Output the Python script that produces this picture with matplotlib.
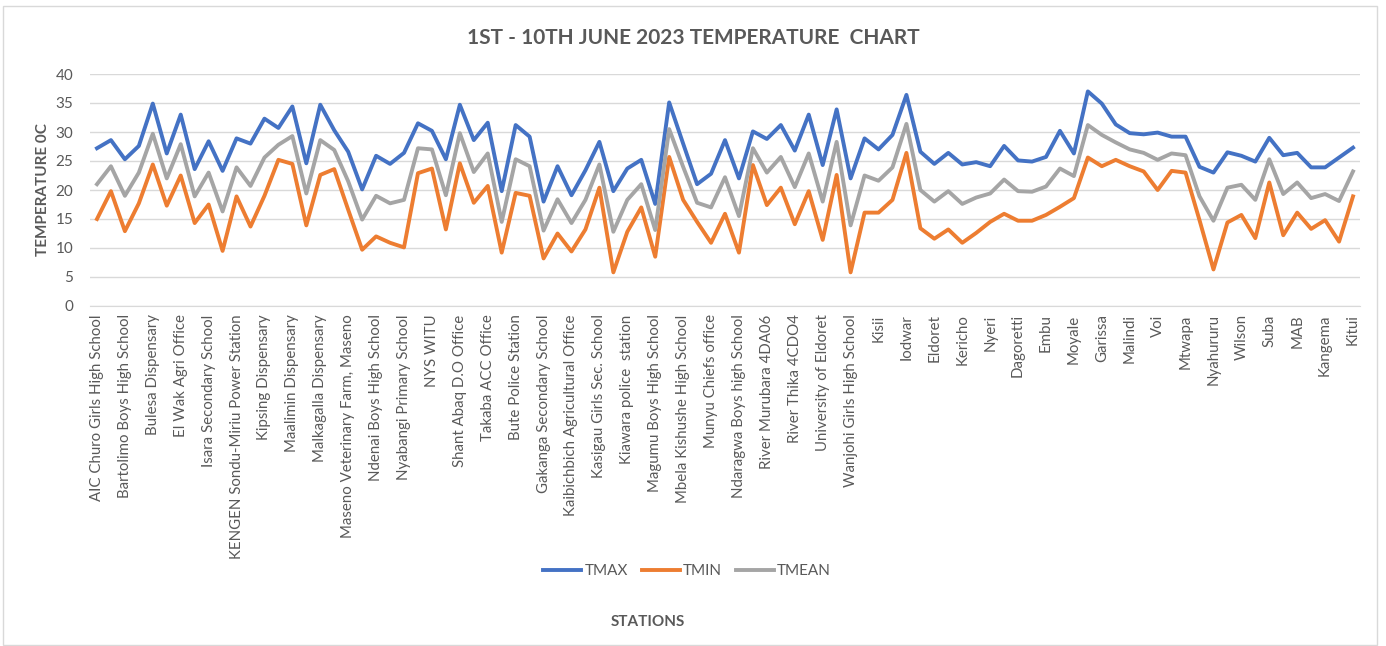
import matplotlib
matplotlib.use("Agg")
import matplotlib.pyplot as plt
from matplotlib.patches import Rectangle

plt.rcParams["font.family"] = ["Lato", "DejaVu Sans"]

# stations shown on the axis (every second station is labelled)
stations = [
    "AIC Churo Girls High School", "Bartolimo Boys High School", "Bulesa Dispensary",
    "El Wak Agri Office", "Isara Secondary School", "KENGEN Sondu-Miriu Power Station",
    "Kipsing Dispensary", "Maalimin Dispensary", "Malkagalla Dispensary",
    "Maseno Veterinary Farm, Maseno", "Ndenai Boys High School", "Nyabangi Primary School",
    "NYS WITU", "Shant Abaq D.O Office", "Takaba ACC Office", "Bute Police Station",
    "Gakanga Secondary School", "Kaibichbich Agricultural Office", "Kasigau Girls Sec. School",
    "Kiawara police  station", "Magumu Boys High School", "Mbela Kishushe High School",
    "Munyu Chiefs office", "Ndaragwa Boys high School", "River Murubara 4DA06",
    "River Thika 4CDO4", "University of Eldoret", "Wanjohi Girls High School", "Kisii",
    "Iodwar", "Eldoret", "Kericho", "Nyeri", "Dagoretti", "Embu", "Moyale", "Garissa",
    "Malindi", "Voi", "Mtwapa", "Nyahururu", "Wilson", "Suba", "MAB", "Kangema", "Kitui",
]

tmax = [27.2, 28.6, 25.3, 27.6, 34.9, 26.3, 33.0, 23.6, 28.4, 23.3,
        28.9, 28.0, 32.3, 30.7, 34.4, 24.6, 34.7, 30.3, 26.6, 20.1,
        25.9, 24.5, 26.4, 31.5, 30.2, 25.3, 34.7, 28.6, 31.6, 19.8,
        31.2, 29.2, 18.0, 24.1, 19.1, 23.4, 28.3, 19.8, 23.7, 25.2,
        17.6, 35.1, 28.0, 21.0, 22.8, 28.6, 22.0, 30.1, 28.8, 31.2,
        26.8, 33.0, 24.3, 33.9, 22.0, 28.9, 27.0, 29.5, 36.4, 26.6,
        24.5, 26.4, 24.4, 24.8, 24.1, 27.6, 25.1, 24.9, 25.7, 30.2,
        26.3, 37.0, 34.9, 31.3, 29.8, 29.6, 29.9, 29.2, 29.2, 24.0,
        23.0, 26.5, 25.9, 24.9, 29.0, 26.0, 26.4, 23.9, 23.9, 25.6,
        27.3]

tmin = [15.0, 19.8, 12.9, 17.7, 24.4, 17.3, 22.5, 14.3, 17.5, 9.5,
        18.9, 13.7, 19.0, 25.2, 24.5, 13.9, 22.6, 23.6, 16.6, 9.7,
        12.0, 10.9, 10.1, 22.9, 23.7, 13.2, 24.6, 17.8, 20.7, 9.2,
        19.5, 19.0, 8.2, 12.5, 9.4, 13.2, 20.4, 5.8, 12.8, 17.0,
        8.5, 25.7, 18.3, 14.5, 10.9, 15.9, 9.2, 24.3, 17.4, 20.4,
        14.1, 19.8, 11.4, 22.6, 5.8, 16.1, 16.1, 18.3, 26.4, 13.4,
        11.6, 13.2, 10.9, 12.6, 14.5, 15.9, 14.7, 14.7, 15.7, 17.1,
        18.6, 25.6, 24.1, 25.2, 24.1, 23.2, 20.0, 23.3, 23.0, 14.8,
        6.3, 14.4, 15.7, 11.7, 21.3, 12.2, 16.1, 13.3, 14.8, 11.1,
        18.9]

tmean = [21.0, 24.1, 19.0, 23.0, 29.7, 22.0, 27.9, 18.9, 23.0, 16.3,
         23.9, 20.7, 25.6, 27.8, 29.3, 19.4, 28.6, 26.9, 21.5, 14.9,
         19.0, 17.7, 18.3, 27.2, 27.0, 19.1, 29.8, 23.1, 26.3, 14.5,
         25.3, 24.1, 13.0, 18.4, 14.3, 18.3, 24.4, 12.8, 18.3, 21.0,
         13.1, 30.5, 24.0, 17.8, 17.0, 22.2, 15.5, 27.2, 23.0, 25.7,
         20.5, 26.3, 18.0, 28.3, 13.9, 22.5, 21.6, 23.9, 31.4, 20.0,
         18.0, 19.8, 17.6, 18.7, 19.4, 21.8, 19.8, 19.7, 20.6, 23.7,
         22.4, 31.2, 29.5, 28.2, 27.0, 26.4, 25.2, 26.3, 26.0, 18.9,
         14.7, 20.4, 20.9, 18.3, 25.3, 19.3, 21.3, 18.6, 19.3, 18.1,
         23.2]

text_col = "#595959"
x = list(range(len(tmax)))

fig = plt.figure(figsize=(13.86, 6.46), dpi=100)
fig.patches.append(Rectangle((3 / 1386, 1 / 646), 1374 / 1386, 639 / 646,
                             transform=fig.transFigure, fill=False,
                             edgecolor="#D9D9D9", linewidth=1))
ax = fig.add_axes([90 / 1386, 1 - 306 / 646, 1270 / 1386, 232 / 646])

ax.plot(x, tmax, color="#4472C4", lw=2.8, label="TMAX", solid_joinstyle="round")
ax.plot(x, tmin, color="#ED7D31", lw=2.8, label="TMIN", solid_joinstyle="round")
ax.plot(x, tmean, color="#A5A5A5", lw=2.8, label="TMEAN", solid_joinstyle="round")

ax.set_xlim(-0.5, len(tmax) - 0.5)
ax.set_ylim(0, 40)
ax.set_yticks(range(0, 41, 5))
ax.set_xticks(range(0, len(tmax), 2))
ax.set_xticklabels(stations, rotation=90, fontsize=10.8, color=text_col)
ax.tick_params(axis="y", labelsize=11, labelcolor=text_col, length=0, pad=12)
ax.tick_params(axis="x", length=0, pad=6)
ax.grid(axis="y", color="#D9D9D9", lw=1)
ax.set_axisbelow(True)
for s in ["top", "right", "left"]:
    ax.spines[s].set_visible(False)
ax.spines["bottom"].set_color("#D9D9D9")

ax.set_ylabel("TEMPERATURE 0C", fontsize=11, fontweight="bold", color=text_col, labelpad=4)
fig.text(0.5, 1 - 38 / 646, "1ST - 10TH JUNE 2023 TEMPERATURE  CHART", ha="center",
         va="center", fontsize=15, fontweight="bold", color=text_col)
fig.text(648 / 1386, 1 - 622 / 646, "STATIONS", ha="center", va="center",
         fontsize=11, fontweight="bold", color=text_col)

fig.legend(loc="center", bbox_to_anchor=(687 / 1386, 1 - 571 / 646), ncol=3,
           frameon=False, fontsize=11, labelcolor=text_col, handlelength=2.5,
           handletextpad=0.2, columnspacing=0.9)

fig.savefig("out.png", dpi=100)
